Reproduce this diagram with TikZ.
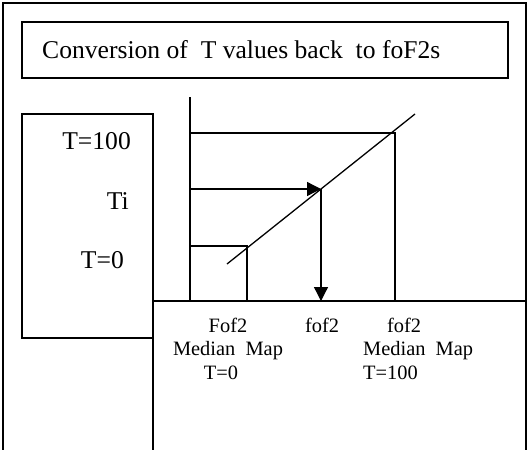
\documentclass[tikz,border=0pt]{standalone}
\usepackage{fontspec}
\setmainfont{Liberation Serif}
\usepackage{tikz}
\usetikzlibrary{positioning, arrows.meta}

\begin{document}
\begin{tikzpicture}[
        x=1pt, y=-1pt,
        >={Triangle[length=14pt, width=14pt]},
        frame/.style={draw, line width=1.6pt},
        line/.style={line width=1.3pt},
        arrow/.style={->, line width=1.3pt},
        big/.style={font=\fontsize{25.6}{29}\selectfont, inner sep=0pt},
        small/.style={font=\fontsize{20.4}{23.5}\selectfont, inner sep=0pt}
    ]
    \useasboundingbox (0,0) rectangle (528,450);

    % Frames
    \draw[frame] (3,460) -- (3,3) -- (526,3) -- (526,460);
    \draw[frame] (22,22) rectangle (508,78);
    \draw[frame] (22,114) rectangle (153,338);
    \draw[frame] (153,460) -- (153,301) -- (526,301);

    % Nodes
    \node[big, anchor=base west] (title) at (42,58) {Conversion of~ T values back~ to foF2s};
    \node[big, anchor=base east] (thigh) at (131,149) {T=100};
    \node[big, anchor=base east] (ti) at (129,209) {Ti};
    \node[big, anchor=base east] (tlow) at (124,268) {T=0};

    \node[small, anchor=base] (foflow) at (228,332) {Fof2};
    \node[small, anchor=base] (medlow) at (228,355) {Median~ Map};
    \node[small, anchor=base] (tzero) at (221,379) {T=0};
    \node[small, anchor=base] (fofi) at (322,332) {fof2};
    \node[small, anchor=base] (fofhigh) at (404,332) {fof2};
    \node[small, anchor=base west] (medhigh) at (363,355) {Median~ Map};
    \node[small, anchor=base west] (thundred) at (363,379) {T=100};

    % Axis and curve
    \coordinate (axtop) at (190,97);
    \coordinate (axhigh) at (190,133);
    \coordinate (axi) at (190,189);
    \coordinate (axlow) at (190,246);
    \coordinate (axbase) at (190,301);
    \coordinate (diagstart) at (227,264);
    \coordinate (diagend) at (415,114);
    \coordinate (hit) at (321,189);
    \coordinate (hitbase) at (321,301);
    \coordinate (highbase) at (395,301);
    \coordinate (lowbase) at (247,301);

    \draw[line] (axtop) -- (axbase);
    \draw[line] (diagstart) -- (diagend);
    \draw[line] (axhigh) -| (highbase);
    \draw[line] (axlow) -| (lowbase);

    % Arrows
    \draw[arrow] (axi) -- (hit);
    \draw[arrow] (hit) -- (hitbase);
\end{tikzpicture}
\end{document}
